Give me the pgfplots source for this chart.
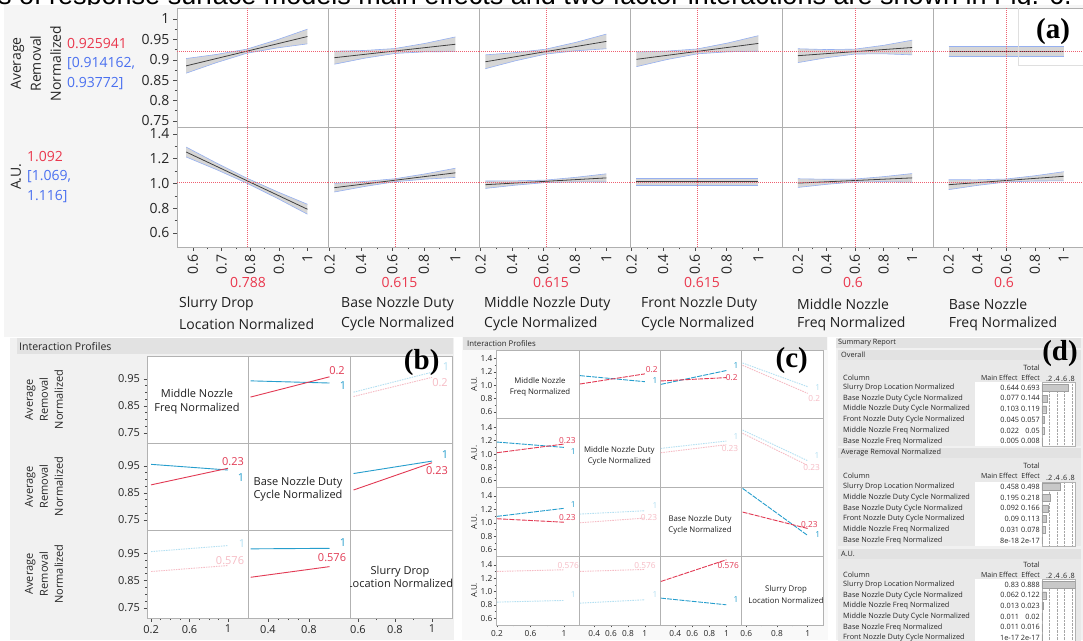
\documentclass[border=0pt]{standalone}
\usepackage{fontspec}
\setmainfont{Open Sans}
\newfontfamily\serifbf{Liberation Serif}
\newfontfamily\titlefont{Liberation Sans}
\usepackage{pgfplots}
\pgfplotsset{compat=1.18}

\definecolor{jred}{RGB}{234,56,78}
\definecolor{xred}{RGB}{238,95,112}
\definecolor{jblue}{RGB}{74,112,240}
\definecolor{iblue}{RGB}{38,158,205}
\definecolor{ired}{RGB}{226,58,84}
\definecolor{lblue}{RGB}{180,224,242}
\definecolor{lred}{RGB}{246,188,197}
\definecolor{bandfill}{RGB}{214,214,214}
\definecolor{bandedge}{RGB}{150,176,240}
\definecolor{panelbg}{RGB}{245,245,245}
\definecolor{panelb}{RGB}{241,241,241}
\definecolor{hdr}{RGB}{226,226,226}
\definecolor{tbl}{RGB}{233,233,233}
\definecolor{gridc}{RGB}{175,175,175}
\definecolor{barc}{RGB}{200,200,200}

\newcommand\fa{\fontsize{14}{20}\selectfont}
\newcommand\fb{\fontsize{11}{15}\selectfont}
\newcommand\fc{\fontsize{8.3}{11}\selectfont}
\newcommand\fd{\fontsize{7.3}{9}\selectfont}

\pgfplotsset{
 base/.style={scale only axis, anchor=north west, axis background/.style={fill=white},
   axis line style={gridc, line width=0.6pt}, tick style={black!70, line width=0.5pt},
   tick align=outside, xtick pos=lower, ytick pos=left, clip=true, scaled ticks=false,
   /pgf/number format/assume math mode=true},
 A/.style={base, width=151pt, major tick length=4pt, minor tick length=2.5pt,
   tick label style={font=\fa, text=black!85}},
 AT/.style={A, height=119pt, ymin=0.735, ymax=1.027, xtick=\empty, ytick=\empty},
 AB/.style={A, height=120pt, ymin=0.487, ymax=1.456, ytick=\empty,
   xticklabel style={rotate=90, anchor=east}, minor x tick num=1, xtick={0.2,0.4,0.6,0.8,1}},
 a1/.style={xmin=0.544, xmax=1.072},
 a2/.style={xmin=0.19, xmax=1.15},
 a5/.style={xmin=0.088, xmax=1.147},
 a6/.style={xmin=0.092, xmax=1.134},
 B/.style={base, major tick length=3.5pt, minor tick length=2pt, tick label style={font=\fb, text=black!85},
   ymin=0.713, ymax=1.035, ytick=\empty, xtick=\empty, minor y tick num=3, axis line style={gray!60, line width=0.6pt}},
 b1/.style={xmin=0.158, xmax=1.208, width=101pt},
 b2/.style={xmin=0.205, xmax=1.2, width=102pt},
 b3/.style={xmin=0.557, xmax=1.108, width=102pt},
 bY/.style={ytick={0.75,0.85,0.95}},
 C/.style={base, major tick length=2.5pt, minor tick length=1.5pt, tick label style={font=\fc, text=black!85},
   yticklabel style={inner sep=1pt}, ymin=0.5, ymax=1.53, ytick=\empty, xtick=\empty, height=68.7pt,
   minor y tick num=1, minor x tick num=1, axis line style={gray!60, line width=0.6pt},
   yticklabel={\pgfmathprintnumber[fixed,fixed zerofill,precision=1]{\tick}}},
 c1/.style={xmin=0.188, xmax=1.18, width=83pt},
 c2/.style={xmin=0.22, xmax=1.18, width=81pt},
 c3/.style={xmin=0.22, xmax=1.18, width=81.7pt},
 c4/.style={xmin=0.57, xmax=1.10, width=81.3pt},
 cY/.style={ytick={0.6,0.8,1,1.2,1.4}},
 sb/.style={line width=0.9pt},
 sc/.style={line width=0.9pt, dash pattern=on 5pt off 1.2pt},
 fd/.style={line width=0.9pt, dash pattern=on 1.5pt off 1pt},
 D/.style={scale only axis, anchor=north west, width=33.7pt, height=64pt, xmin=0, xmax=0.9,
   ymin=0.5, ymax=6.5, y dir=reverse, xbar, bar width=7pt, ytick=\empty,
   xtick={0.2,0.4,0.6,0.8}, xticklabels={.2,.4,.6,.8}, xticklabel pos=upper, xtick pos=upper,
   major tick length=0pt, xmajorgrids, grid style={gray!70, densely dotted},
   axis line style={gray!60}, tick label style={font=\fd, text=black!85, inner sep=0.8pt},
   axis background/.style={fill=white}, clip=true},
}
\newcommand\xcross[4]{\draw[xred, dash pattern=on 0.9pt off 1.1pt, line width=0.55pt] (#1,#2) -- (#1,#3);}
\newcommand\hcross[3]{\draw[xred, dash pattern=on 0.9pt off 1.1pt, line width=0.55pt] (#1,#3) -- (#2,#3);}

\begin{document}
\begin{tikzpicture}
\useasboundingbox (0,0) rectangle (1083pt,640pt);
\begin{scope}[x=1pt,y=-1pt,yshift=640pt]
 \node[anchor=base west, font=\titlefont\fontsize{27}{27}\selectfont, inner sep=0pt] at (-2,4.5) {s of response surface models main effects and two factor interactions are shown in Fig. 6.};
 \fill[panelbg] (4,5) rectangle (1083,337);
 \fill[panelb] (10,338) rectangle (454,640);
 \fill[hdr] (17,338) rectangle (453,354);
 \fill[panelbg!60!white] (462,337) rectangle (828,640);
 \fill[hdr] (463,337) rectangle (827,350);
 \fill[panelb] (836,338) rectangle (1083,640);
 \fill[hdr] (836,338) rectangle (1081,348);
 % (d) tables
 \fill[tbl] (838,350) rectangle (1081,446);
 \fill[hdr] (838,350) rectangle (1081,360);
 \fill[white] (975,382.5) rectangle (1041.8,446);
 \fill[tbl] (838,447.5) rectangle (1081,545.5);
 \fill[hdr] (838,447.5) rectangle (1081,458);
 \fill[white] (975,481.7) rectangle (1041.8,545.5);
 \fill[tbl] (838,548.5) rectangle (1081,645);
 \fill[hdr] (838,548.5) rectangle (1081,558.5);
 \fill[white] (975,579.2) rectangle (1041.8,645);
\end{scope}

% ================= panel (a) top row =================
\begin{axis}[AT, a1, at={(177pt,632pt)}, ytick={0.75,0.8,0.85,0.9,0.95,1}, minor y tick num=1]
 \addplot[draw=none, fill=bandfill] coordinates {(0.576,0.903)(0.682,0.913)(0.788,0.926)(0.894,0.949)(1,0.975)(1,0.939)(0.894,0.929)(0.788,0.916)(0.682,0.893)(0.576,0.867)} -- cycle;
 \addplot[bandedge, line width=0.6pt] coordinates {(0.576,0.903)(0.682,0.913)(0.788,0.926)(0.894,0.949)(1,0.975)};
 \addplot[bandedge, line width=0.6pt] coordinates {(0.576,0.867)(0.682,0.893)(0.788,0.916)(0.894,0.929)(1,0.939)};
 \addplot[black!75, line width=0.8pt] coordinates {(0.576,0.885)(1,0.957)};
 \xcross{0.788}{0.735}{1.027}{}\hcross{0.544}{1.072}{0.92}
\end{axis}
\begin{axis}[AT, a2, at={(328pt,632pt)}]
 \addplot[draw=none, fill=bandfill] coordinates {(0.23,0.921)(0.4225,0.9228)(0.615,0.9275)(0.8075,0.9402)(1,0.956)(1,0.920)(0.8075,0.9194)(0.615,0.9155)(0.4225,0.9038)(0.23,0.889)} -- cycle;
 \addplot[bandedge, line width=0.6pt] coordinates {(0.23,0.921)(0.4225,0.9228)(0.615,0.9275)(0.8075,0.9402)(1,0.956)};
 \addplot[bandedge, line width=0.6pt] coordinates {(0.23,0.889)(0.4225,0.9038)(0.615,0.9155)(0.8075,0.9194)(1,0.920)};
 \addplot[black!75, line width=0.8pt] coordinates {(0.23,0.905)(1,0.938)};
 \xcross{0.615}{0.735}{1.027}{}\hcross{0.19}{1.15}{0.92}
\end{axis}
\begin{axis}[AT, a2, at={(479pt,632pt)}]
 \addplot[draw=none, fill=bandfill] coordinates {(0.23,0.912)(0.4225,0.9175)(0.615,0.926)(0.8075,0.9429)(1,0.963)(1,0.927)(0.8075,0.9221)(0.615,0.914)(0.4225,0.8975)(0.23,0.878)} -- cycle;
 \addplot[bandedge, line width=0.6pt] coordinates {(0.23,0.912)(0.4225,0.9175)(0.615,0.926)(0.8075,0.9429)(1,0.963)};
 \addplot[bandedge, line width=0.6pt] coordinates {(0.23,0.878)(0.4225,0.8975)(0.615,0.914)(0.8075,0.9221)(1,0.927)};
 \addplot[black!75, line width=0.8pt] coordinates {(0.23,0.895)(1,0.945)};
 \xcross{0.615}{0.735}{1.027}{}\hcross{0.19}{1.15}{0.92}
\end{axis}
\begin{axis}[AT, a2, at={(630pt,632pt)}, width=152pt]
 \addplot[draw=none, fill=bandfill] coordinates {(0.23,0.919)(0.4225,0.9212)(0.615,0.9265)(0.8075,0.9411)(1,0.959)(1,0.921)(0.8075,0.9195)(0.615,0.9145)(0.4225,0.9004)(0.23,0.883)} -- cycle;
 \addplot[bandedge, line width=0.6pt] coordinates {(0.23,0.919)(0.4225,0.9212)(0.615,0.9265)(0.8075,0.9411)(1,0.959)};
 \addplot[bandedge, line width=0.6pt] coordinates {(0.23,0.883)(0.4225,0.9004)(0.615,0.9145)(0.8075,0.9195)(1,0.921)};
 \addplot[black!75, line width=0.8pt] coordinates {(0.23,0.901)(1,0.940)};
 \xcross{0.615}{0.735}{1.027}{}\hcross{0.19}{1.15}{0.92}
\end{axis}
\begin{axis}[AT, a5, at={(782pt,632pt)}]
 \addplot[draw=none, fill=bandfill] coordinates {(0.2,0.927)(0.4,0.925)(0.6,0.926)(0.8,0.9354)(1,0.948)(1,0.912)(0.8,0.9146)(0.6,0.914)(0.4,0.905)(0.2,0.893)} -- cycle;
 \addplot[bandedge, line width=0.6pt] coordinates {(0.2,0.927)(0.4,0.925)(0.6,0.926)(0.8,0.9354)(1,0.948)};
 \addplot[bandedge, line width=0.6pt] coordinates {(0.2,0.893)(0.4,0.905)(0.6,0.914)(0.8,0.9146)(1,0.912)};
 \addplot[black!75, line width=0.8pt] coordinates {(0.2,0.91)(1,0.93)};
 \xcross{0.6}{0.735}{1.027}{}\hcross{0.088}{1.147}{0.92}
\end{axis}
\begin{axis}[AT, a6, at={(933pt,632pt)}, width=150pt]
 \addplot[draw=none, fill=bandfill] coordinates {(0.2,0.932)(1,0.932)(1,0.908)(0.2,0.908)} -- cycle;
 \addplot[bandedge, line width=0.6pt] coordinates {(0.2,0.932)(1,0.932)};
 \addplot[bandedge, line width=0.6pt] coordinates {(0.2,0.908)(1,0.908)};
 \addplot[black!75, line width=0.8pt] coordinates {(0.2,0.92)(1,0.92)};
 \xcross{0.6}{0.735}{1.027}{}\hcross{0.092}{1.134}{0.92}
\end{axis}

% ================= panel (a) bottom row =================
\begin{axis}[AB, a1, at={(177pt,513pt)}, ytick={0.6,0.8,1,1.2,1.4}, minor y tick num=1,
  yticklabel={\pgfmathprintnumber[fixed,fixed zerofill,precision=1]{\tick}}, xtick={0.6,0.7,0.8,0.9,1}]
 \addplot[draw=none, fill=bandfill] coordinates {(0.576,1.294)(0.682,1.165)(0.788,1.043)(0.894,0.934)(1,0.832)(1,0.752)(0.894,0.881)(0.788,1.003)(0.682,1.112)(0.576,1.214)} -- cycle;
 \addplot[bandedge, line width=0.6pt] coordinates {(0.576,1.294)(0.682,1.165)(0.788,1.043)(0.894,0.934)(1,0.832)};
 \addplot[bandedge, line width=0.6pt] coordinates {(0.576,1.214)(0.682,1.112)(0.788,1.003)(0.894,0.881)(1,0.752)};
 \addplot[black!75, line width=0.8pt] coordinates {(0.576,1.254)(1,0.792)};
 \xcross{0.788}{0.487}{1.456}{}\hcross{0.544}{1.072}{1.013}
\end{axis}
\begin{axis}[AB, a2, at={(328pt,513pt)}]
 \addplot[draw=none, fill=bandfill] coordinates {(0.23,1.001)(0.4225,1.0164)(0.615,1.038)(0.8075,1.0772)(1,1.123)(1,1.049)(0.8075,1.0348)(0.615,1.014)(0.4225,0.9756)(0.23,0.931)} -- cycle;
 \addplot[bandedge, line width=0.6pt] coordinates {(0.23,1.001)(0.4225,1.0164)(0.615,1.038)(0.8075,1.0772)(1,1.123)};
 \addplot[bandedge, line width=0.6pt] coordinates {(0.23,0.931)(0.4225,0.9756)(0.615,1.014)(0.8075,1.0348)(1,1.049)};
 \addplot[black!75, line width=0.8pt] coordinates {(0.23,0.966)(1,1.086)};
 \xcross{0.615}{0.487}{1.456}{}\hcross{0.19}{1.15}{1.013}
\end{axis}
\begin{axis}[AB, a2, at={(479pt,513pt)}]
 \addplot[draw=none, fill=bandfill] coordinates {(0.23,1.02)(0.4225,1.021)(0.615,1.0275)(0.8075,1.0499)(1,1.078)(1,1.012)(0.8075,1.0126)(0.615,1.0075)(0.4225,0.9864)(0.23,0.96)} -- cycle;
 \addplot[bandedge, line width=0.6pt] coordinates {(0.23,1.02)(0.4225,1.021)(0.615,1.0275)(0.8075,1.0499)(1,1.078)};
 \addplot[bandedge, line width=0.6pt] coordinates {(0.23,0.96)(0.4225,0.9864)(0.615,1.0075)(0.8075,1.0126)(1,1.012)};
 \addplot[black!75, line width=0.8pt] coordinates {(0.23,0.99)(1,1.045)};
 \xcross{0.615}{0.487}{1.456}{}\hcross{0.19}{1.15}{1.013}
\end{axis}
\begin{axis}[AB, a2, at={(630pt,513pt)}, width=152pt]
 \addplot[draw=none, fill=bandfill] coordinates {(0.23,1.038)(1,1.038)(1,0.988)(0.23,0.988)} -- cycle;
 \addplot[bandedge, line width=0.6pt] coordinates {(0.23,1.038)(1,1.038)};
 \addplot[bandedge, line width=0.6pt] coordinates {(0.23,0.988)(1,0.988)};
 \addplot[black!75, line width=0.8pt] coordinates {(0.23,1.013)(1,1.013)};
 \xcross{0.615}{0.487}{1.456}{}\hcross{0.19}{1.15}{1.013}
\end{axis}
\begin{axis}[AB, a5, at={(782pt,513pt)}]
 \addplot[draw=none, fill=bandfill] coordinates {(0.2,1.038)(0.4,1.0339)(0.6,1.036)(0.8,1.0549)(1,1.08)(1,1.01)(0.8,1.0141)(0.6,1.012)(0.4,0.9931)(0.2,0.968)} -- cycle;
 \addplot[bandedge, line width=0.6pt] coordinates {(0.2,1.038)(0.4,1.0339)(0.6,1.036)(0.8,1.0549)(1,1.08)};
 \addplot[bandedge, line width=0.6pt] coordinates {(0.2,0.968)(0.4,0.9931)(0.6,1.012)(0.8,1.0141)(1,1.01)};
 \addplot[black!75, line width=0.8pt] coordinates {(0.2,1.003)(1,1.045)};
 \xcross{0.6}{0.487}{1.456}{}\hcross{0.088}{1.147}{1.013}
\end{axis}
\begin{axis}[AB, a6, at={(933pt,513pt)}, width=150pt]
 \addplot[draw=none, fill=bandfill] coordinates {(0.2,1.03)(0.4,1.0295)(0.6,1.036)(0.8,1.0622)(1,1.095)(1,1.021)(0.8,1.0198)(0.6,1.012)(0.4,0.9845)(0.2,0.95)} -- cycle;
 \addplot[bandedge, line width=0.6pt] coordinates {(0.2,1.03)(0.4,1.0295)(0.6,1.036)(0.8,1.0622)(1,1.095)};
 \addplot[bandedge, line width=0.6pt] coordinates {(0.2,0.95)(0.4,0.9845)(0.6,1.012)(0.8,1.0198)(1,1.021)};
 \addplot[black!75, line width=0.8pt] coordinates {(0.2,0.99)(1,1.058)};
 \xcross{0.6}{0.487}{1.456}{}\hcross{0.092}{1.134}{1.013}
\end{axis}

% ================= panel (b) =================
\begin{axis}[B, b1, bY, at={(147pt,284pt)}, height=87pt]
\end{axis}
\begin{axis}[B, b2, at={(248pt,284pt)}, height=87pt]
 \addplot[iblue, sb] coordinates {(0.23,0.943)(1,0.935)};
 \addplot[ired, sb] coordinates {(0.23,0.883)(1,0.958)};
\end{axis}
\begin{axis}[B, b3, at={(350pt,284pt)}, height=87pt]
 \addplot[lblue, fd] coordinates {(0.576,0.901)(1,0.975)};
 \addplot[lred, fd] coordinates {(0.576,0.885)(1,0.956)};
\end{axis}
\begin{axis}[B, b1, bY, at={(147pt,197pt)}, height=87pt]
 \addplot[iblue, sb] coordinates {(0.2,0.956)(1,0.935)};
 \addplot[ired, sb] coordinates {(0.2,0.880)(1,0.9415)};
\end{axis}
\begin{axis}[B, b2, at={(248pt,197pt)}, height=87pt]
\end{axis}
\begin{axis}[B, b3, at={(350pt,197pt)}, height=87pt]
 \addplot[iblue, sb] coordinates {(0.576,0.922)(1,0.968)};
 \addplot[ired, sb] coordinates {(0.576,0.861)(1,0.962)};
\end{axis}
\begin{axis}[B, b1, bY, at={(147pt,110pt)}, height=88pt, xtick={0.2,0.6,1}, minor x tick num=3]
 \addplot[lblue, fd] coordinates {(0.2,0.956)(1,0.978)};
 \addplot[lred, fd] coordinates {(0.2,0.883)(1,0.905)};
\end{axis}
\begin{axis}[B, b2, at={(248pt,110pt)}, height=88pt, xtick={0.4,0.8}, minor x tick num=3]
 \addplot[iblue, sb] coordinates {(0.23,0.966)(1,0.968)};
 \addplot[ired, sb] coordinates {(0.23,0.862)(1,0.901)};
\end{axis}
\begin{axis}[B, b3, at={(350pt,110pt)}, height=88pt, xtick={0.6,0.8,1}, minor x tick num=1]
\end{axis}

% ================= panel (c) =================
\begin{axis}[C, c1, cY, at={(496pt,290pt)}]
\end{axis}
\begin{axis}[C, c2, at={(579pt,290pt)}]
 \addplot[iblue, sc] coordinates {(0.23,1.146)(1,1.055)};
 \addplot[ired, sc] coordinates {(0.23,1.02)(1,1.172)};
\end{axis}
\begin{axis}[C, c3, at={(660pt,290pt)}]
 \addplot[iblue, sc] coordinates {(0.23,1.015)(1,1.222)};
 \addplot[ired, sc] coordinates {(0.23,1.066)(1,1.116)};
\end{axis}
\begin{axis}[C, c4, at={(741.7pt,290pt)}]
 \addplot[lblue, fd] coordinates {(0.576,1.335)(1,0.98)};
 \addplot[lred, fd] coordinates {(0.576,1.30)(1,0.88)};
\end{axis}
\begin{axis}[C, c1, cY, at={(496pt,221.3pt)}]
 \addplot[iblue, sc] coordinates {(0.2,1.18)(1,1.10)};
 \addplot[ired, sc] coordinates {(0.2,1.02)(1,1.15)};
\end{axis}
\begin{axis}[C, c2, at={(579pt,221.3pt)}]
\end{axis}
\begin{axis}[C, c3, at={(660pt,221.3pt)}]
 \addplot[lblue, fd] coordinates {(0.23,1.085)(1,1.195)};
 \addplot[lred, fd] coordinates {(0.23,1.02)(1,1.14)};
\end{axis}
\begin{axis}[C, c4, at={(741.7pt,221.3pt)}]
 \addplot[lblue, fd] coordinates {(0.576,1.36)(1,0.90)};
 \addplot[lred, fd] coordinates {(0.576,1.31)(1,0.83)};
\end{axis}
\begin{axis}[C, c1, cY, at={(496pt,152.6pt)}]
 \addplot[iblue, sc] coordinates {(0.2,1.096)(1,1.216)};
 \addplot[ired, sc] coordinates {(0.2,1.06)(1,1.008)};
\end{axis}
\begin{axis}[C, c2, at={(579pt,152.6pt)}]
 \addplot[lblue, fd] coordinates {(0.23,1.13)(1,1.18)};
 \addplot[lred, fd] coordinates {(0.23,1.0)(1,1.07)};
\end{axis}
\begin{axis}[C, c3, at={(660pt,152.6pt)}]
\end{axis}
\begin{axis}[C, c4, at={(741.7pt,152.6pt)}]
 \addplot[iblue, sc] coordinates {(0.576,1.515)(1,0.81)};
 \addplot[ired, sc] coordinates {(0.576,1.16)(1,0.914)};
\end{axis}
\begin{axis}[C, c1, cY, at={(496pt,83.9pt)}, xtick={0.2,0.6,1}]
 \addplot[lred, fd] coordinates {(0.2,1.30)(1,1.325)};
 \addplot[lblue, fd] coordinates {(0.2,0.84)(1,0.865)};
\end{axis}
\begin{axis}[C, c2, at={(579pt,83.9pt)}, xtick={0.4,0.6,0.8,1}, minor x tick num=0]
 \addplot[lred, fd] coordinates {(0.23,1.30)(1,1.33)};
 \addplot[lblue, fd] coordinates {(0.23,0.825)(1,0.875)};
\end{axis}
\begin{axis}[C, c3, at={(660pt,83.9pt)}, xtick={0.4,0.6,0.8,1}, minor x tick num=0]
 \addplot[ired, sc] coordinates {(0.23,1.15)(1,1.475)};
 \addplot[iblue, sc] coordinates {(0.23,0.9)(1,0.8)};
\end{axis}
\begin{axis}[C, c4, at={(741.7pt,83.9pt)}, xtick={0.6,0.8,1}]
\end{axis}

% ================= panel (d) bars =================
\begin{axis}[D, at={(1041.8pt,257.5pt)}]
 \addplot[fill=barc, draw=gray!75, line width=0.3pt] coordinates {(0.693,1)(0.144,2)(0.119,3)(0.057,4)(0.05,5)(0.008,6)};
\end{axis}
\begin{axis}[D, at={(1041.8pt,158.3pt)}]
 \addplot[fill=barc, draw=gray!75, line width=0.3pt] coordinates {(0.498,1)(0.218,2)(0.166,3)(0.113,4)(0.078,5)(0,6)};
\end{axis}
\begin{axis}[D, at={(1041.8pt,60.8pt)}]
 \addplot[fill=barc, draw=gray!75, line width=0.3pt] coordinates {(0.888,1)(0.122,2)(0.023,3)(0.02,4)(0.016,5)(0,6)};
\end{axis}

% ================= overlay text =================
\begin{scope}[x=1pt,y=-1pt,yshift=640pt]
 % (a)
 \draw[gray!25, line width=0.8pt] (1018,8.3) -- (1018,65.5) -- (1083,65.5);
 \node[font=\serifbf\bfseries\fontsize{29}{29}\selectfont] at (1053,31.7) {(a)};
 \node[rotate=90, align=center, font=\fa, text=black!85] at (36,63.5) {Average\\Removal\\Normalized};
 \node[rotate=90, font=\fa, text=black!85] at (16,177) {A.U.};
 \node[anchor=west, font=\fa, text=jred, inner sep=0pt] at (67,44) {0.925941};
 \node[anchor=west, font=\fa, text=jblue, inner sep=0pt] at (67,64) {[0.914162,};
 \node[anchor=west, font=\fa, text=jblue, inner sep=0pt] at (67,84) {0.93772]};
 \node[anchor=west, font=\fa, text=jred, inner sep=0pt] at (27,157) {1.092};
 \node[anchor=west, font=\fa, text=jblue, inner sep=0pt] at (27,177) {[1.069,};
 \node[anchor=west, font=\fa, text=jblue, inner sep=0pt] at (27,197) {1.116]};
 \foreach \xx/\vv in {248/0.788, 399.5/0.615, 551/0.615, 702/0.615, 853/0.6, 1004/0.6}
   \node[font=\fa, text=jred] at (\xx,283) {\vv};
 \foreach \xx/\la/\lb in {179/Slurry Drop/Location Normalized, 341/Base Nozzle Duty/Cycle Normalized, 484/Middle Nozzle Duty/Cycle Normalized, 641/Front Nozzle Duty/Cycle Normalized, 797/Middle Nozzle/Freq Normalized, 948.6/Base Nozzle/Freq Normalized}
   {\node[anchor=west, font=\fa, text=black!88, inner sep=0pt] at (\xx,304) {\la};
    \node[anchor=west, font=\fa, text=black!88, inner sep=0pt] at (\xx,324) {\lb};}
 % (b)
 \node[anchor=west, font=\fontsize{10.5}{12}\selectfont, text=black!85, inner sep=0pt] at (19,346.5) {Interaction Profiles};
 \node[font=\serifbf\bfseries\fontsize{29}{29}\selectfont] at (421.7,362.5) {(b)};
 \foreach \yy in {399.5,486.5,574}
   \node[rotate=90, align=center, font=\fontsize{11}{15}\selectfont, text=black!85] at (44,\yy) {Average\\Removal\\Normalized};
 \node[align=center, font=\fontsize{11}{13.5}\selectfont, text=black!88] at (197,401.7) {Middle Nozzle\\Freq Normalized};
 \node[align=center, font=\fontsize{11}{13.5}\selectfont, text=black!88] at (298,489) {Base Nozzle Duty\\Cycle Normalized};
 \begin{scope}
  \clip (350.5,530.5) rectangle (451.5,617.5);
  \node[align=center, font=\fontsize{11}{13.5}\selectfont, text=black!88] at (400,577) {Slurry Drop\\Location Normalized};
 \end{scope}
 \node[font=\fb, text=ired] at (337,370.7) {0.2};
 \node[font=\fb, text=iblue] at (343,386) {1};
 \node[font=\fb, text=lblue] at (446,367) {1};
 \node[font=\fb, text=lred] at (440,383) {0.2};
 \node[font=\fb, text=ired] at (233,461.7) {0.23};
 \node[font=\fb, text=iblue] at (241,477.7) {1};
 \node[font=\fb, text=iblue] at (445,455) {1};
 \node[font=\fb, text=ired] at (437,471) {0.23};
 \node[font=\fb, text=lblue] at (242,543.3) {1};
 \node[font=\fb, text=lred] at (230,561) {0.576};
 \node[font=\fb, text=iblue] at (343,543) {1};
 \node[font=\fb, text=ired] at (332,558) {0.576};
 % (c)
 \node[anchor=west, font=\fontsize{7.8}{9}\selectfont, text=black!85, inner sep=0pt] at (467,343.5) {Interaction Profiles};
 \node[font=\serifbf\bfseries\fontsize{29}{29}\selectfont] at (791.7,360.5) {(c)};
 \foreach \yy in {384.3,453,521.7,590.5}
   \node[rotate=90, font=\fontsize{8}{9}\selectfont, text=black!85] at (474,\yy) {A.U.};
 \node[align=center, font=\fontsize{7.8}{11.3}\selectfont, text=black!88] at (540,386.7) {Middle Nozzle\\Freq Normalized};
 \node[align=center, font=\fontsize{7.8}{10.5}\selectfont, text=black!88] at (619.3,456) {Middle Nozzle Duty\\Cycle Normalized};
 \node[align=center, font=\fontsize{7.8}{10.5}\selectfont, text=black!88] at (700,525) {Base Nozzle Duty\\Cycle Normalized};
 \begin{scope}
  \clip (742.2,556.5) rectangle (822.5,624.5);
  \node[align=center, font=\fontsize{7.8}{11.5}\selectfont, text=black!88] at (786,594.5) {Slurry Drop\\Location Normalized};
 \end{scope}
 \node[font=\fc, text=ired] at (651.7,369.3) {0.2};
 \node[font=\fc, text=iblue] at (655,381) {1};
 \node[font=\fc, text=iblue] at (736,365.7) {1};
 \node[font=\fc, text=ired] at (731.7,377.7) {0.2};
 \node[font=\fc, text=lblue] at (817.7,387.7) {1};
 \node[font=\fc, text=lred] at (814.3,399) {0.2};
 \node[font=\fc, text=ired] at (567.3,440.7) {0.23};
 \node[font=\fc, text=iblue] at (573.3,451.7) {1};
 \node[font=\fc, text=lblue] at (736,436.7) {1};
 \node[font=\fc, text=lred] at (730,448.3) {0.23};
 \node[font=\fc, text=lblue] at (817,455.7) {1};
 \node[font=\fc, text=lred] at (811.7,467.7) {0.23};
 \node[font=\fc, text=iblue] at (573.3,504.3) {1};
 \node[font=\fc, text=ired] at (567.3,517.3) {0.23};
 \node[font=\fc, text=lblue] at (655,505.7) {1};
 \node[font=\fc, text=lred] at (649,518) {0.23};
 \node[font=\fc, text=ired] at (809.3,524.3) {0.23};
 \node[font=\fc, text=iblue] at (817.7,535) {1};
 \node[font=\fc, text=lred] at (568.3,566) {0.576};
 \node[font=\fc, text=lblue] at (573.3,595) {1};
 \node[font=\fc, text=lred] at (645,565.7) {0.576};
 \node[font=\fc, text=lblue] at (655,595) {1};
 \node[font=\fc, text=ired] at (728.3,566) {0.576};
 \node[font=\fc, text=iblue] at (736,599.3) {1};
 % (d)
 \node[anchor=west, font=\fd, text=black!85, inner sep=0pt] at (838,343) {Summary Report};
 \node[font=\serifbf\bfseries\fontsize{29}{29}\selectfont] at (1060,354) {(d)};
 \node[anchor=west, font=\fd, text=black!85, inner sep=0pt] at (841,355) {Overall};
 \node[anchor=west, font=\fd, text=black!85, inner sep=0pt] at (841,452.7) {Average Removal Normalized};
 \node[anchor=west, font=\fd, text=black!85, inner sep=0pt] at (841,553.5) {A.U.};
 \foreach \yt/\yh in {367.3/377.7, 465.5/476, 564.5/574.5} {
   \node[anchor=east, font=\fd, text=black!85, inner sep=0pt] at (1040,\yt) {Total};
   \node[anchor=west, font=\fd, text=black!85, inner sep=0pt] at (843,\yh) {Column};
   \node[anchor=east, font=\fontsize{7}{9}\selectfont, text=black!85, inner sep=0pt] at (1017.8,\yh) {Main Effect};
   \node[anchor=east, font=\fontsize{7}{9}\selectfont, text=black!85, inner sep=0pt] at (1040,\yh) {Effect};
 }
 \foreach \yy/\nm/\me/\te in {
   387.7/Slurry Drop Location Normalized/0.644/0.693,
   398.4/Base Nozzle Duty Cycle Normalized/0.077/0.144,
   409.1/Middle Nozzle Duty Cycle Normalized/0.103/0.119,
   419.8/Front Nozzle Duty Cycle Normalized/0.045/0.057,
   430.5/Middle Nozzle Freq Normalized/0.022/0.05,
   441.2/Base Nozzle Freq Normalized/0.005/0.008,
   487/Slurry Drop Location Normalized/0.458/0.498,
   497.7/Middle Nozzle Duty Cycle Normalized/0.195/0.218,
   508.4/Base Nozzle Duty Cycle Normalized/0.092/0.166,
   519.1/Front Nozzle Duty Cycle Normalized/0.09/0.113,
   529.8/Middle Nozzle Freq Normalized/0.031/0.078,
   540.5/Base Nozzle Freq Normalized/8e-18/2e-17,
   584.5/Slurry Drop Location Normalized/0.83/0.888,
   595.2/Base Nozzle Duty Cycle Normalized/0.062/0.122,
   605.9/Middle Nozzle Freq Normalized/0.013/0.023,
   616.6/Middle Nozzle Duty Cycle Normalized/0.011/0.02,
   627.3/Base Nozzle Freq Normalized/0.011/0.016,
   638/Front Nozzle Duty Cycle Normalized/1e-17/2e-17} {
   \node[anchor=west, font=\fd, text=black!85, inner sep=0pt] at (843,\yy) {\nm};
   \node[anchor=east, font=\fd, text=black!85, inner sep=0pt] at (1019.3,\yy) {\me};
   \node[anchor=east, font=\fd, text=black!85, inner sep=0pt] at (1040,\yy) {\te};
 }
\end{scope}
\end{tikzpicture}
\end{document}
